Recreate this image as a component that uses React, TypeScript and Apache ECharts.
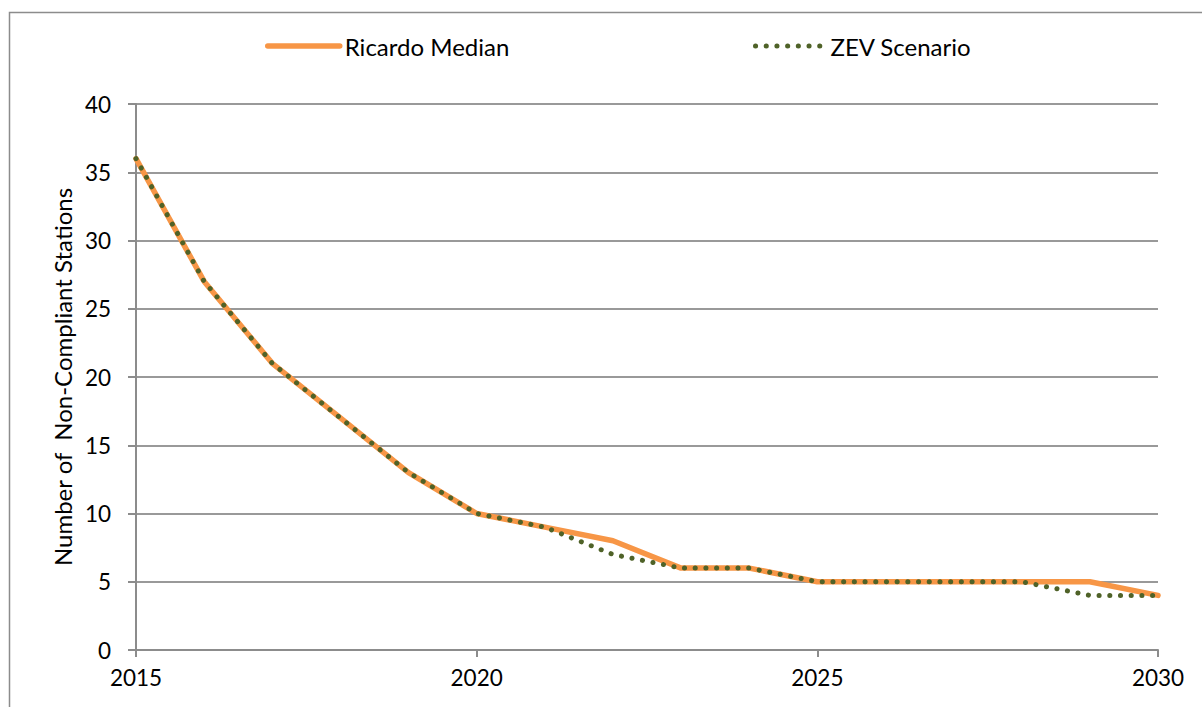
import React, { useEffect, useRef } from "react";
import * as echarts from "echarts";

const years = [2015, 2016, 2017, 2018, 2019, 2020, 2021, 2022, 2023, 2024, 2025, 2026, 2027, 2028, 2029, 2030];
const ricardoMedian = [36, 27, 21, 17, 13, 10, 9, 8, 6, 6, 5, 5, 5, 5, 5, 4];
const zevScenario = [36, 27, 21, 17, 13, 10, 9, 7, 6, 6, 5, 5, 5, 5, 4, 4];
const seriesNames = ["Ricardo Median", "ZEV Scenario"];
const yAxisTitle = "Number of  Non-Compliant Stations";

const FONT = "Lato, 'Open Sans', sans-serif";
const ORANGE = "#F79646";
const GREEN = "#4F6228";

export default function App() {
  const ref = useRef<HTMLDivElement>(null);
  useEffect(() => {
    if (!ref.current) return;
    const chart = echarts.init(ref.current, undefined, { renderer: "svg" });
    const gray = "#8c8c8c";
    const dotted = [0.1, 10.6];
    chart.setOption({
      animation: false,
      backgroundColor: "#ffffff",
      textStyle: { fontFamily: FONT },
      graphic: [
        {
          type: "rect",
          shape: { x: 9.5, y: 12.5, width: 1300, height: 800 },
          style: { fill: "none", stroke: "#8c8c8c", lineWidth: 1.5 },
          silent: true,
        },
      ],
      legend: [
        {
          data: [seriesNames[0]],
          left: 260,
          top: 29,
          itemWidth: 72,
          itemHeight: 14,
          itemGap: 6,
          itemStyle: { color: "rgba(0,0,0,0)", borderWidth: 0 },
          lineStyle: { width: 5.5, cap: "round", color: ORANGE },
          textStyle: { fontSize: 24, color: "#000", fontFamily: FONT },
        },
        {
          data: [seriesNames[1]],
          left: 748,
          top: 29,
          itemWidth: 70,
          itemHeight: 14,
          itemStyle: { color: "rgba(0,0,0,0)", borderWidth: 0 },
          lineStyle: { width: 5, cap: "round", color: GREEN, type: dotted },
          textStyle: { fontSize: 24, color: "#000", fontFamily: FONT },
        },
      ],
      grid: { left: 136, right: 44, top: 104, bottom: 57 },
      xAxis: {
        type: "value",
        min: 2015,
        max: 2030,
        interval: 5,
        axisLine: { show: true, lineStyle: { color: gray, width: 2 } },
        axisTick: { show: true, length: 7, lineStyle: { color: gray, width: 2 } },
        splitLine: { show: false },
        axisLabel: {
          color: "#000",
          fontSize: 22.5,
          margin: 16,
          fontFamily: FONT,
          formatter: (v: number) => String(v),
        },
      },
      yAxis: {
        type: "value",
        min: 0,
        max: 40,
        interval: 5,
        name: yAxisTitle,
        nameLocation: "middle",
        nameGap: 58,
        nameTextStyle: { color: "#000", fontSize: 24, fontFamily: FONT },
        axisLine: { show: true, lineStyle: { color: gray, width: 2 } },
        axisTick: { show: true, length: 8, lineStyle: { color: gray, width: 2 } },
        splitLine: { show: true, lineStyle: { color: "#999999", width: 2 } },
        axisLabel: { color: "#000", fontSize: 22.5, margin: 25, fontFamily: FONT },
      },
      series: [
        {
          name: seriesNames[0],
          type: "line",
          data: years.map((y, i) => [y, ricardoMedian[i]]),
          showSymbol: false,
          symbol: "none",
          lineStyle: { color: ORANGE, width: 5.5, cap: "round", join: "round" },
          itemStyle: { color: ORANGE },
        },
        {
          name: seriesNames[1],
          type: "line",
          data: years.map((y, i) => [y, zevScenario[i]]),
          showSymbol: false,
          symbol: "none",
          lineStyle: { color: GREEN, width: 5, type: dotted, cap: "round", join: "round" },
          itemStyle: { color: GREEN },
        },
      ],
    });
    return () => chart.dispose();
  }, []);
  return (
    <div
      ref={ref}
      style={{ position: "fixed", left: 0, top: 0, width: 1202, height: 707 }}
    />
  );
}
